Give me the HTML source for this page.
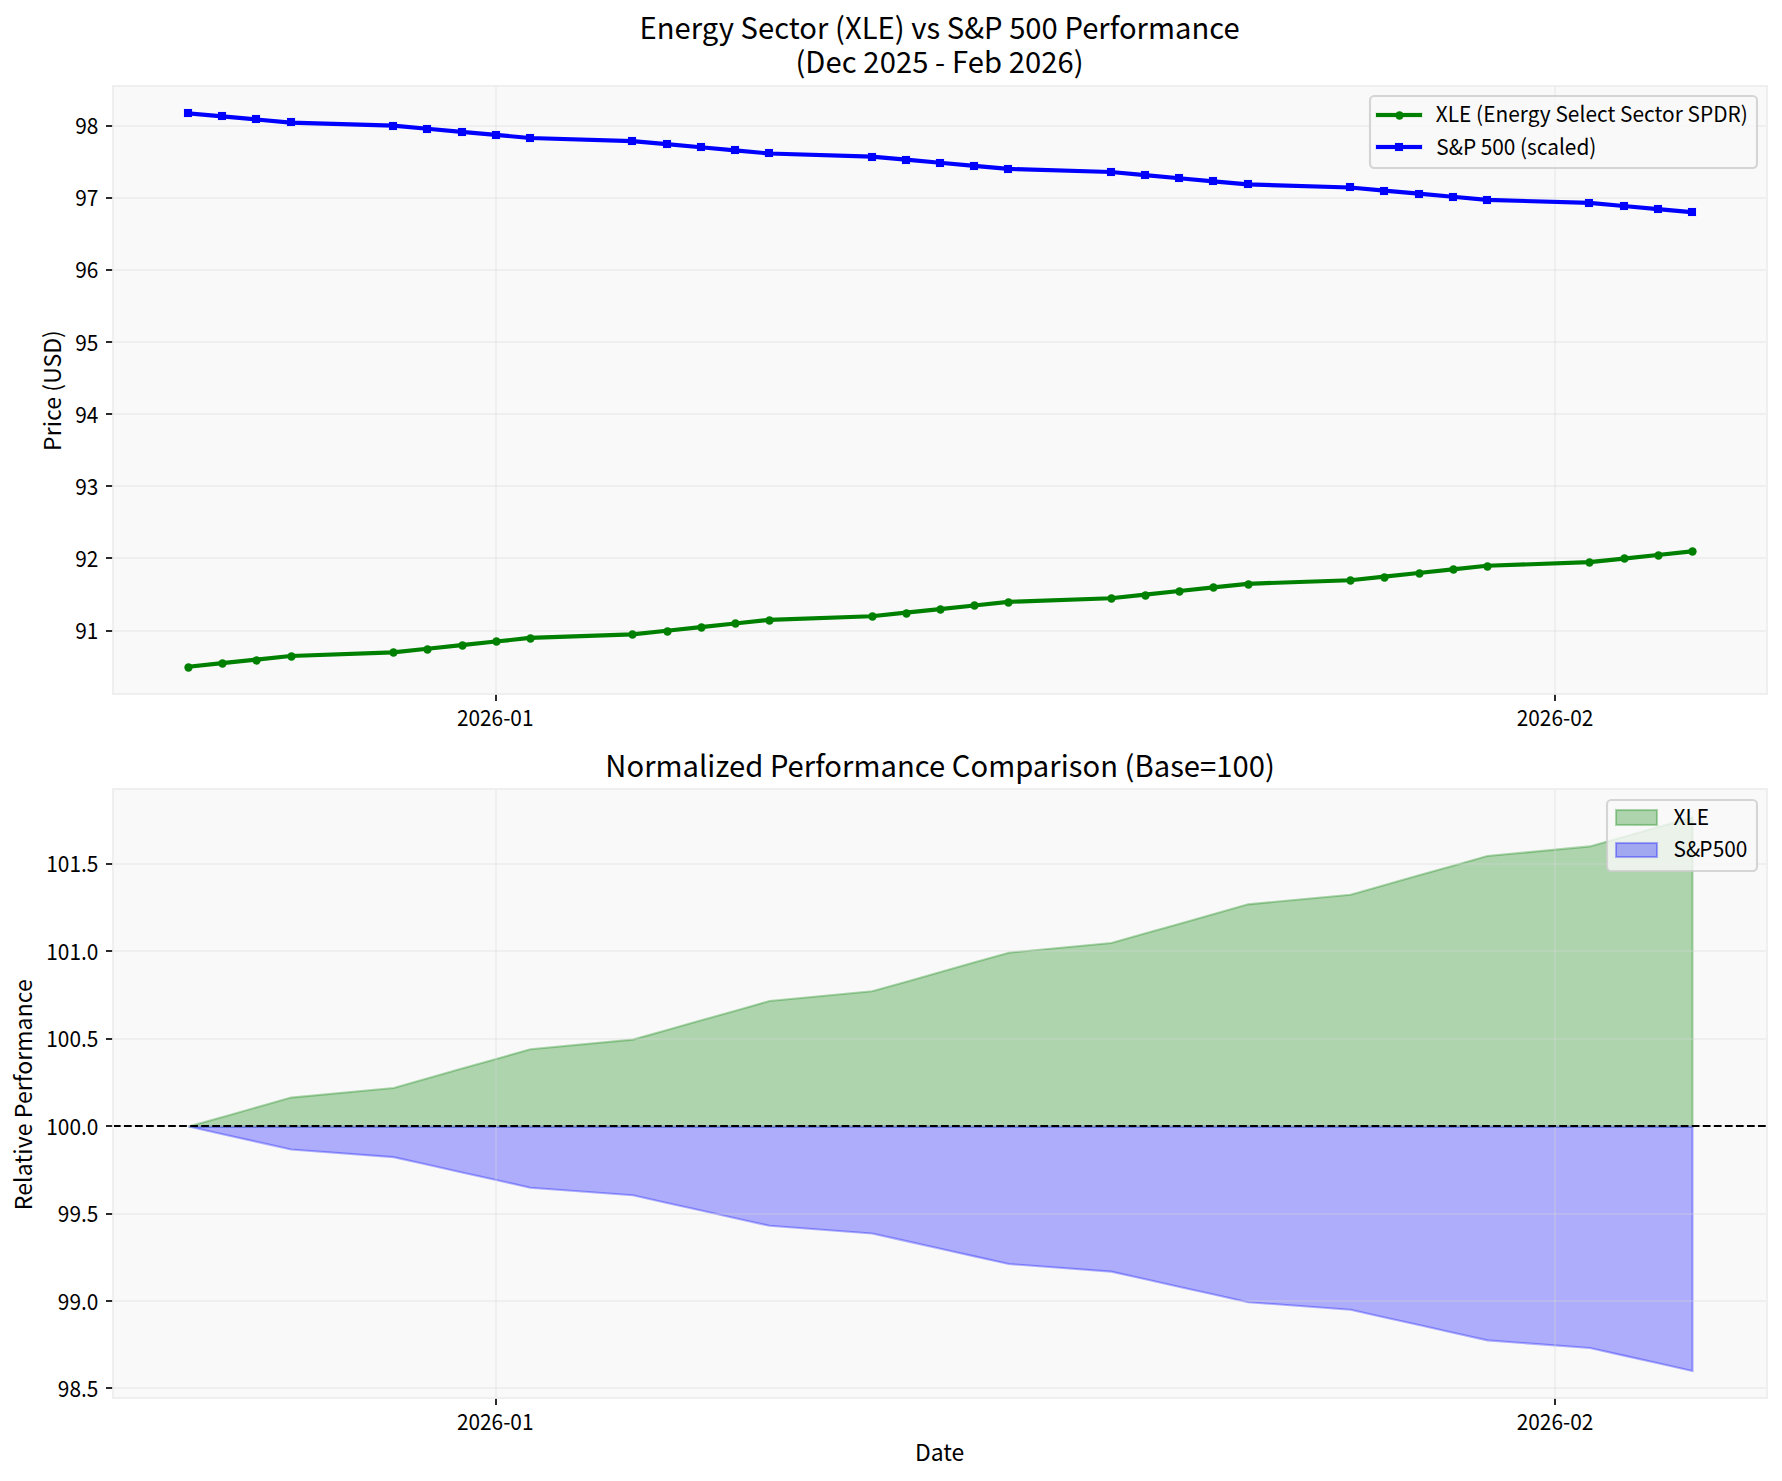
<!DOCTYPE html>
<html lang="en"><head><meta charset="utf-8"><title>Energy Sector (XLE) vs S&amp;P 500 Performance</title>
<style>html,body{margin:0;padding:0;background:#fff}svg{display:block}</style></head>
<body>
<svg width="1782" height="1481" viewBox="0 0 1782 1481" font-family='"Noto Sans CJK JP","Noto Sans CJK SC","Liberation Sans",sans-serif' fill="#000">
<rect width="1782" height="1481" fill="#fff"/>
<defs><clipPath id="ct"><rect x="112.9167" y="85.6" width="1654.2708" height="608.8656"/></clipPath><clipPath id="cb"><rect x="112.9167" y="789.2833" width="1654.2708" height="608.8657"/></clipPath></defs>
<rect x="113" y="86" width="1654" height="608" fill="#f9f9f9"/>
<g shape-rendering="crispEdges">
<rect x="114" y="125" width="1652" height="2" fill="rgba(216,216,216,0.3)"/>
<rect x="114" y="197" width="1652" height="2" fill="rgba(216,216,216,0.3)"/>
<rect x="114" y="269" width="1652" height="2" fill="rgba(216,216,216,0.3)"/>
<rect x="114" y="341" width="1652" height="2" fill="rgba(216,216,216,0.3)"/>
<rect x="114" y="413" width="1652" height="2" fill="rgba(216,216,216,0.3)"/>
<rect x="114" y="485" width="1652" height="2" fill="rgba(216,216,216,0.3)"/>
<rect x="114" y="557" width="1652" height="2" fill="rgba(216,216,216,0.3)"/>
<rect x="114" y="630" width="1652" height="2" fill="rgba(216,216,216,0.3)"/>
<rect x="495" y="87" width="2" height="606" fill="rgba(216,216,216,0.3)"/>
<rect x="1554" y="87" width="2" height="606" fill="rgba(216,216,216,0.3)"/>
<rect x="106" y="125" width="6" height="2" fill="#2a2a2a"/>
<rect x="106" y="197" width="6" height="2" fill="#2a2a2a"/>
<rect x="106" y="269" width="6" height="2" fill="#2a2a2a"/>
<rect x="106" y="341" width="6" height="2" fill="#2a2a2a"/>
<rect x="106" y="413" width="6" height="2" fill="#2a2a2a"/>
<rect x="106" y="485" width="6" height="2" fill="#2a2a2a"/>
<rect x="106" y="557" width="6" height="2" fill="#2a2a2a"/>
<rect x="106" y="630" width="6" height="2" fill="#2a2a2a"/>
<rect x="495" y="695" width="2" height="6" fill="#2a2a2a"/>
<rect x="1554" y="695" width="2" height="6" fill="#2a2a2a"/>
</g>
<g clip-path="url(#ct)">
<polyline points="188.11,666.79 222.29,663.18 256.47,659.57 290.65,655.97 393.19,652.36 427.36,648.75 461.54,645.14 495.72,641.54 529.90,637.93 632.44,634.32 666.62,630.71 700.80,627.11 734.98,623.50 769.16,619.89 871.69,616.28 905.87,612.68 940.05,609.07 974.23,605.46 1008.41,601.85 1110.95,598.24 1145.13,594.64 1179.31,591.03 1213.49,587.42 1247.66,583.81 1350.20,580.21 1384.38,576.60 1418.56,572.99 1452.74,569.38 1486.92,565.78 1589.46,562.17 1623.64,558.56 1657.81,554.95 1691.99,551.35" fill="none" stroke="#008000" stroke-width="4.17" stroke-linejoin="round" stroke-linecap="square"/>
<circle cx="188.5" cy="667.5" r="4.17" fill="#008000"/>
<circle cx="222.5" cy="663.5" r="4.17" fill="#008000"/>
<circle cx="256.5" cy="660.5" r="4.17" fill="#008000"/>
<circle cx="291.5" cy="656.5" r="4.17" fill="#008000"/>
<circle cx="393.5" cy="652.5" r="4.17" fill="#008000"/>
<circle cx="427.5" cy="649.5" r="4.17" fill="#008000"/>
<circle cx="462.5" cy="645.5" r="4.17" fill="#008000"/>
<circle cx="496.5" cy="641.5" r="4.17" fill="#008000"/>
<circle cx="530.5" cy="638.5" r="4.17" fill="#008000"/>
<circle cx="632.5" cy="634.5" r="4.17" fill="#008000"/>
<circle cx="667.5" cy="631.5" r="4.17" fill="#008000"/>
<circle cx="701.5" cy="627.5" r="4.17" fill="#008000"/>
<circle cx="735.5" cy="623.5" r="4.17" fill="#008000"/>
<circle cx="769.5" cy="620.5" r="4.17" fill="#008000"/>
<circle cx="872.5" cy="616.5" r="4.17" fill="#008000"/>
<circle cx="906.5" cy="613.5" r="4.17" fill="#008000"/>
<circle cx="940.5" cy="609.5" r="4.17" fill="#008000"/>
<circle cx="974.5" cy="605.5" r="4.17" fill="#008000"/>
<circle cx="1008.5" cy="602.5" r="4.17" fill="#008000"/>
<circle cx="1111.5" cy="598.5" r="4.17" fill="#008000"/>
<circle cx="1145.5" cy="595.5" r="4.17" fill="#008000"/>
<circle cx="1179.5" cy="591.5" r="4.17" fill="#008000"/>
<circle cx="1213.5" cy="587.5" r="4.17" fill="#008000"/>
<circle cx="1248.5" cy="584.5" r="4.17" fill="#008000"/>
<circle cx="1350.5" cy="580.5" r="4.17" fill="#008000"/>
<circle cx="1384.5" cy="577.5" r="4.17" fill="#008000"/>
<circle cx="1419.5" cy="573.5" r="4.17" fill="#008000"/>
<circle cx="1453.5" cy="569.5" r="4.17" fill="#008000"/>
<circle cx="1487.5" cy="566.5" r="4.17" fill="#008000"/>
<circle cx="1589.5" cy="562.5" r="4.17" fill="#008000"/>
<circle cx="1624.5" cy="558.5" r="4.17" fill="#008000"/>
<circle cx="1658.5" cy="555.5" r="4.17" fill="#008000"/>
<circle cx="1692.5" cy="551.5" r="4.17" fill="#008000"/>
<polyline points="188.11,113.28 222.29,116.37 256.47,119.46 290.65,122.55 393.19,125.64 427.36,128.74 461.54,131.83 495.72,134.92 529.90,138.01 632.44,141.11 666.62,144.20 700.80,147.29 734.98,150.38 769.16,153.48 871.69,156.57 905.87,159.66 940.05,162.75 974.23,165.84 1008.41,168.94 1110.95,172.03 1145.13,175.12 1179.31,178.21 1213.49,181.31 1247.66,184.40 1350.20,187.49 1384.38,190.58 1418.56,193.67 1452.74,196.77 1486.92,199.86 1589.46,202.95 1623.64,206.04 1657.81,209.14 1691.99,212.23" fill="none" stroke="#0000ff" stroke-width="4.17" stroke-linejoin="round" stroke-linecap="square"/>
<g shape-rendering="crispEdges">
<rect x="183" y="108" width="10" height="10" fill="#0000ff" fill-opacity="0.045"/><rect x="184" y="109" width="8" height="8" fill="#0000ff"/>
<rect x="217" y="111" width="10" height="10" fill="#0000ff" fill-opacity="0.045"/><rect x="218" y="112" width="8" height="8" fill="#0000ff"/>
<rect x="251" y="114" width="10" height="10" fill="#0000ff" fill-opacity="0.045"/><rect x="252" y="115" width="8" height="8" fill="#0000ff"/>
<rect x="286" y="117" width="10" height="10" fill="#0000ff" fill-opacity="0.045"/><rect x="287" y="118" width="8" height="8" fill="#0000ff"/>
<rect x="388" y="121" width="10" height="10" fill="#0000ff" fill-opacity="0.045"/><rect x="389" y="122" width="8" height="8" fill="#0000ff"/>
<rect x="422" y="124" width="10" height="10" fill="#0000ff" fill-opacity="0.045"/><rect x="423" y="125" width="8" height="8" fill="#0000ff"/>
<rect x="457" y="127" width="10" height="10" fill="#0000ff" fill-opacity="0.045"/><rect x="458" y="128" width="8" height="8" fill="#0000ff"/>
<rect x="491" y="130" width="10" height="10" fill="#0000ff" fill-opacity="0.045"/><rect x="492" y="131" width="8" height="8" fill="#0000ff"/>
<rect x="525" y="133" width="10" height="10" fill="#0000ff" fill-opacity="0.045"/><rect x="526" y="134" width="8" height="8" fill="#0000ff"/>
<rect x="627" y="136" width="10" height="10" fill="#0000ff" fill-opacity="0.045"/><rect x="628" y="137" width="8" height="8" fill="#0000ff"/>
<rect x="662" y="139" width="10" height="10" fill="#0000ff" fill-opacity="0.045"/><rect x="663" y="140" width="8" height="8" fill="#0000ff"/>
<rect x="696" y="142" width="10" height="10" fill="#0000ff" fill-opacity="0.045"/><rect x="697" y="143" width="8" height="8" fill="#0000ff"/>
<rect x="730" y="145" width="10" height="10" fill="#0000ff" fill-opacity="0.045"/><rect x="731" y="146" width="8" height="8" fill="#0000ff"/>
<rect x="764" y="148" width="10" height="10" fill="#0000ff" fill-opacity="0.045"/><rect x="765" y="149" width="8" height="8" fill="#0000ff"/>
<rect x="867" y="152" width="10" height="10" fill="#0000ff" fill-opacity="0.045"/><rect x="868" y="153" width="8" height="8" fill="#0000ff"/>
<rect x="901" y="155" width="10" height="10" fill="#0000ff" fill-opacity="0.045"/><rect x="902" y="156" width="8" height="8" fill="#0000ff"/>
<rect x="935" y="158" width="10" height="10" fill="#0000ff" fill-opacity="0.045"/><rect x="936" y="159" width="8" height="8" fill="#0000ff"/>
<rect x="969" y="161" width="10" height="10" fill="#0000ff" fill-opacity="0.045"/><rect x="970" y="162" width="8" height="8" fill="#0000ff"/>
<rect x="1003" y="164" width="10" height="10" fill="#0000ff" fill-opacity="0.045"/><rect x="1004" y="165" width="8" height="8" fill="#0000ff"/>
<rect x="1106" y="167" width="10" height="10" fill="#0000ff" fill-opacity="0.045"/><rect x="1107" y="168" width="8" height="8" fill="#0000ff"/>
<rect x="1140" y="170" width="10" height="10" fill="#0000ff" fill-opacity="0.045"/><rect x="1141" y="171" width="8" height="8" fill="#0000ff"/>
<rect x="1174" y="173" width="10" height="10" fill="#0000ff" fill-opacity="0.045"/><rect x="1175" y="174" width="8" height="8" fill="#0000ff"/>
<rect x="1208" y="176" width="10" height="10" fill="#0000ff" fill-opacity="0.045"/><rect x="1209" y="177" width="8" height="8" fill="#0000ff"/>
<rect x="1243" y="179" width="10" height="10" fill="#0000ff" fill-opacity="0.045"/><rect x="1244" y="180" width="8" height="8" fill="#0000ff"/>
<rect x="1345" y="182" width="10" height="10" fill="#0000ff" fill-opacity="0.045"/><rect x="1346" y="183" width="8" height="8" fill="#0000ff"/>
<rect x="1379" y="186" width="10" height="10" fill="#0000ff" fill-opacity="0.045"/><rect x="1380" y="187" width="8" height="8" fill="#0000ff"/>
<rect x="1414" y="189" width="10" height="10" fill="#0000ff" fill-opacity="0.045"/><rect x="1415" y="190" width="8" height="8" fill="#0000ff"/>
<rect x="1448" y="192" width="10" height="10" fill="#0000ff" fill-opacity="0.045"/><rect x="1449" y="193" width="8" height="8" fill="#0000ff"/>
<rect x="1482" y="195" width="10" height="10" fill="#0000ff" fill-opacity="0.045"/><rect x="1483" y="196" width="8" height="8" fill="#0000ff"/>
<rect x="1584" y="198" width="10" height="10" fill="#0000ff" fill-opacity="0.045"/><rect x="1585" y="199" width="8" height="8" fill="#0000ff"/>
<rect x="1619" y="201" width="10" height="10" fill="#0000ff" fill-opacity="0.045"/><rect x="1620" y="202" width="8" height="8" fill="#0000ff"/>
<rect x="1653" y="204" width="10" height="10" fill="#0000ff" fill-opacity="0.045"/><rect x="1654" y="205" width="8" height="8" fill="#0000ff"/>
<rect x="1687" y="207" width="10" height="10" fill="#0000ff" fill-opacity="0.045"/><rect x="1688" y="208" width="8" height="8" fill="#0000ff"/>
</g></g>
<g shape-rendering="crispEdges">
<rect x="112" y="85" width="2" height="610" fill="#efefef"/>
<rect x="1766" y="85" width="2" height="610" fill="#efefef"/>
<rect x="112" y="85" width="1656" height="2" fill="#efefef"/>
<rect x="112" y="693" width="1656" height="2" fill="#efefef"/>
<rect x="112" y="125" width="1" height="2" fill="#cdcdcd"/>
<rect x="112" y="197" width="1" height="2" fill="#cdcdcd"/>
<rect x="112" y="269" width="1" height="2" fill="#cdcdcd"/>
<rect x="112" y="341" width="1" height="2" fill="#cdcdcd"/>
<rect x="112" y="413" width="1" height="2" fill="#cdcdcd"/>
<rect x="112" y="485" width="1" height="2" fill="#cdcdcd"/>
<rect x="112" y="557" width="1" height="2" fill="#cdcdcd"/>
<rect x="112" y="630" width="1" height="2" fill="#cdcdcd"/>
<rect x="495" y="694" width="2" height="1" fill="#cdcdcd"/>
<rect x="1554" y="694" width="2" height="1" fill="#cdcdcd"/>
</g>
<text transform="translate(98.33 134) scale(1 1.06)" font-size="20.833" text-anchor="end">98</text>
<text transform="translate(98.33 206) scale(1 1.06)" font-size="20.833" text-anchor="end">97</text>
<text transform="translate(98.33 278) scale(1 1.06)" font-size="20.833" text-anchor="end">96</text>
<text transform="translate(98.33 351) scale(1 1.06)" font-size="20.833" text-anchor="end">95</text>
<text transform="translate(98.33 423) scale(1 1.06)" font-size="20.833" text-anchor="end">94</text>
<text transform="translate(98.33 495) scale(1 1.06)" font-size="20.833" text-anchor="end">93</text>
<text transform="translate(98.33 567) scale(1 1.06)" font-size="20.833" text-anchor="end">92</text>
<text transform="translate(98.33 639) scale(1 1.06)" font-size="20.833" text-anchor="end">91</text>
<text transform="translate(495.2 725.5) scale(1 1.06)" font-size="20.833" text-anchor="middle">2026-01</text>
<text transform="translate(1555 725.5) scale(1 1.06)" font-size="20.833" text-anchor="middle">2026-02</text>
<text transform="translate(939.55 38.5) scale(1 1.02)" font-size="29.167" text-anchor="middle" textLength="600.3" lengthAdjust="spacing">Energy Sector (XLE) vs S&amp;P 500 Performance</text>
<text x="939.55" y="72.5" font-size="29.167" text-anchor="middle" textLength="288.3" lengthAdjust="spacing">(Dec 2025 - Feb 2026)</text>
<text transform="translate(60.5 390.53) rotate(-90)" font-size="22.917" text-anchor="middle" textLength="120.8" lengthAdjust="spacing">Price (USD)</text>
<rect x="1370" y="96" width="387" height="72" rx="4.17" fill="#f9f9f9" fill-opacity="0.8" stroke="#ccc" stroke-opacity="0.8" stroke-width="2.1"/>
<rect x="1375" y="112" width="48" height="6" fill="#008000" fill-opacity="0.085"/><rect x="1376" y="113" width="46" height="4" fill="#008000"/>
<circle cx="1399.5" cy="115.5" r="4.17" fill="#008000"/>
<rect x="1375" y="144" width="48" height="6" fill="#0000ff" fill-opacity="0.085"/><rect x="1376" y="145" width="46" height="4" fill="#0000ff"/>
<rect x="1394" y="142" width="10" height="10" fill="#0000ff" fill-opacity="0.045"/><rect x="1395" y="143" width="8" height="8" fill="#0000ff"/>
<text transform="translate(1435.81 121.5) scale(1 1.02)" font-size="20.833" text-anchor="start" textLength="312.0" lengthAdjust="spacing">XLE (Energy Select Sector SPDR)</text>
<text transform="translate(1436.31 154.5) scale(1 1.06)" font-size="20.833" text-anchor="start">S&amp;P 500 (scaled)</text>
<rect x="113" y="789" width="1654" height="609" fill="#f9f9f9"/>
<g clip-path="url(#cb)">
<polygon points="188.61,1126.59 222.79,1116.92 256.97,1107.26 291.15,1097.60 393.69,1087.94 427.86,1078.27 462.04,1068.61 496.22,1058.95 530.40,1049.29 632.94,1039.62 667.12,1029.96 701.30,1020.30 735.48,1010.64 769.66,1000.98 872.19,991.31 906.37,981.65 940.55,971.99 974.73,962.33 1008.91,952.66 1111.45,943.00 1145.63,933.34 1179.81,923.68 1213.99,914.01 1248.16,904.35 1350.70,894.69 1384.88,885.03 1419.06,875.36 1453.24,865.70 1487.42,856.04 1589.96,846.38 1624.14,836.71 1658.31,827.05 1692.49,817.39 1692.49,1126.59 1658.31,1126.59 1624.14,1126.59 1589.96,1126.59 1487.42,1126.59 1453.24,1126.59 1419.06,1126.59 1384.88,1126.59 1350.70,1126.59 1248.16,1126.59 1213.99,1126.59 1179.81,1126.59 1145.63,1126.59 1111.45,1126.59 1008.91,1126.59 974.73,1126.59 940.55,1126.59 906.37,1126.59 872.19,1126.59 769.66,1126.59 735.48,1126.59 701.30,1126.59 667.12,1126.59 632.94,1126.59 530.40,1126.59 496.22,1126.59 462.04,1126.59 427.86,1126.59 393.69,1126.59 291.15,1126.59 256.97,1126.59 222.79,1126.59 188.61,1126.59" fill="#008000" fill-opacity="0.305" stroke="#008000" stroke-opacity="0.305" stroke-width="2.08" stroke-linejoin="miter"/>
<polygon points="188.61,1126.59 222.79,1134.22 256.97,1141.86 291.15,1149.49 393.69,1157.13 427.86,1164.76 462.04,1172.40 496.22,1180.03 530.40,1187.67 632.94,1195.30 667.12,1202.94 701.30,1210.57 735.48,1218.21 769.66,1225.84 872.19,1233.48 906.37,1241.11 940.55,1248.74 974.73,1256.38 1008.91,1264.01 1111.45,1271.65 1145.63,1279.28 1179.81,1286.92 1213.99,1294.55 1248.16,1302.19 1350.70,1309.82 1384.88,1317.46 1419.06,1325.09 1453.24,1332.73 1487.42,1340.36 1589.96,1348.00 1624.14,1355.63 1658.31,1363.27 1692.49,1370.90 1692.49,1126.59 1658.31,1126.59 1624.14,1126.59 1589.96,1126.59 1487.42,1126.59 1453.24,1126.59 1419.06,1126.59 1384.88,1126.59 1350.70,1126.59 1248.16,1126.59 1213.99,1126.59 1179.81,1126.59 1145.63,1126.59 1111.45,1126.59 1008.91,1126.59 974.73,1126.59 940.55,1126.59 906.37,1126.59 872.19,1126.59 769.66,1126.59 735.48,1126.59 701.30,1126.59 667.12,1126.59 632.94,1126.59 530.40,1126.59 496.22,1126.59 462.04,1126.59 427.86,1126.59 393.69,1126.59 291.15,1126.59 256.97,1126.59 222.79,1126.59 188.61,1126.59" fill="#0000ff" fill-opacity="0.305" stroke="#0000ff" stroke-opacity="0.305" stroke-width="2.08" stroke-linejoin="miter"/>
</g>
<g shape-rendering="crispEdges">
<rect x="114" y="863" width="1652" height="2" fill="rgba(216,216,216,0.3)"/>
<rect x="114" y="950" width="1652" height="2" fill="rgba(216,216,216,0.3)"/>
<rect x="114" y="1038" width="1652" height="2" fill="rgba(216,216,216,0.3)"/>
<rect x="114" y="1125" width="1652" height="2" fill="rgba(216,216,216,0.3)"/>
<rect x="114" y="1213" width="1652" height="2" fill="rgba(216,216,216,0.3)"/>
<rect x="114" y="1300" width="1652" height="2" fill="rgba(216,216,216,0.3)"/>
<rect x="114" y="1387" width="1652" height="2" fill="rgba(216,216,216,0.3)"/>
<rect x="495" y="790" width="2" height="607" fill="rgba(216,216,216,0.3)"/>
<rect x="1554" y="790" width="2" height="607" fill="rgba(216,216,216,0.3)"/>
<rect x="106" y="863" width="6" height="2" fill="#2a2a2a"/>
<rect x="106" y="950" width="6" height="2" fill="#2a2a2a"/>
<rect x="106" y="1038" width="6" height="2" fill="#2a2a2a"/>
<rect x="106" y="1125" width="6" height="2" fill="#2a2a2a"/>
<rect x="106" y="1213" width="6" height="2" fill="#2a2a2a"/>
<rect x="106" y="1300" width="6" height="2" fill="#2a2a2a"/>
<rect x="106" y="1387" width="6" height="2" fill="#2a2a2a"/>
<rect x="495" y="1399" width="2" height="6" fill="#2a2a2a"/>
<rect x="1554" y="1399" width="2" height="6" fill="#2a2a2a"/>
</g>
<line x1="112.9167" x2="1767.1875" y1="1126" y2="1126" stroke="#000" stroke-width="2.08" stroke-dasharray="7.708 3.333"/>
<g shape-rendering="crispEdges">
<rect x="112" y="788" width="2" height="611" fill="#efefef"/>
<rect x="1766" y="788" width="2" height="611" fill="#efefef"/>
<rect x="112" y="788" width="1656" height="2" fill="#efefef"/>
<rect x="112" y="1397" width="1656" height="2" fill="#efefef"/>
<rect x="112" y="863" width="1" height="2" fill="#cdcdcd"/>
<rect x="112" y="950" width="1" height="2" fill="#cdcdcd"/>
<rect x="112" y="1038" width="1" height="2" fill="#cdcdcd"/>
<rect x="112" y="1125" width="1" height="2" fill="#cdcdcd"/>
<rect x="112" y="1213" width="1" height="2" fill="#cdcdcd"/>
<rect x="112" y="1300" width="1" height="2" fill="#cdcdcd"/>
<rect x="112" y="1387" width="1" height="2" fill="#cdcdcd"/>
<rect x="495" y="1398" width="2" height="1" fill="#cdcdcd"/>
<rect x="1554" y="1398" width="2" height="1" fill="#cdcdcd"/>
</g>
<text transform="translate(98.33 872) scale(1 1.06)" font-size="20.833" text-anchor="end">101.5</text>
<text transform="translate(98.33 960) scale(1 1.06)" font-size="20.833" text-anchor="end">101.0</text>
<text transform="translate(98.33 1047) scale(1 1.06)" font-size="20.833" text-anchor="end">100.5</text>
<text transform="translate(98.33 1135) scale(1 1.06)" font-size="20.833" text-anchor="end">100.0</text>
<text transform="translate(98.33 1222) scale(1 1.06)" font-size="20.833" text-anchor="end">99.5</text>
<text transform="translate(98.33 1310) scale(1 1.06)" font-size="20.833" text-anchor="end">99.0</text>
<text transform="translate(98.33 1397) scale(1 1.06)" font-size="20.833" text-anchor="end">98.5</text>
<text transform="translate(495.2 1429.5) scale(1 1.06)" font-size="20.833" text-anchor="middle">2026-01</text>
<text transform="translate(1555 1429.5) scale(1 1.06)" font-size="20.833" text-anchor="middle">2026-02</text>
<text x="940.05" y="776.5" font-size="29.167" text-anchor="middle" textLength="669.5" lengthAdjust="spacing">Normalized Performance Comparison (Base=100)</text>
<text transform="translate(31.5 1094.72) rotate(-90) scale(1 1.02)" font-size="22.917" text-anchor="middle" textLength="231.0" lengthAdjust="spacing">Relative Performance</text>
<text x="939.55" y="1460.5" font-size="22.917" text-anchor="middle">Date</text>
<rect x="1607" y="800" width="150" height="71" rx="4.17" fill="#f9f9f9" fill-opacity="0.8" stroke="#ccc" stroke-opacity="0.8" stroke-width="2.1"/>
<rect x="1616" y="810" width="41" height="15" fill="#008000" fill-opacity="0.305" stroke="#008000" stroke-opacity="0.305" stroke-width="2.08"/>
<rect x="1616" y="843" width="41" height="14" fill="#0000ff" fill-opacity="0.305" stroke="#0000ff" stroke-opacity="0.305" stroke-width="2.08"/>
<text transform="translate(1673.56 824.5) scale(1 1.04)" font-size="20.833" text-anchor="start">XLE</text>
<text transform="translate(1673.56 856.5) scale(1 1.04)" font-size="20.833" text-anchor="start">S&amp;<tspan dx="-1">P</tspan><tspan dx="0.3">5</tspan>00</text>
</svg>
</body></html>
